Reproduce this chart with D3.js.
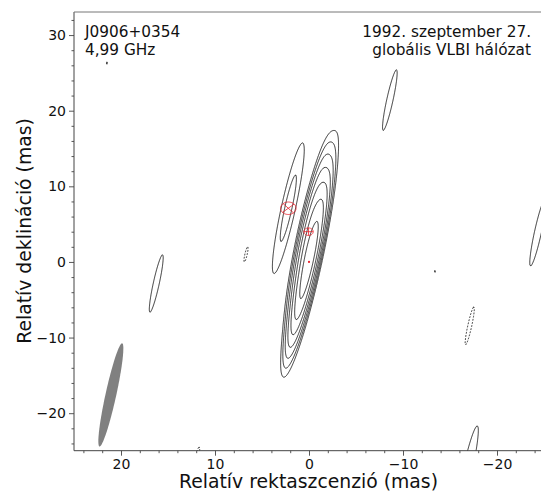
<!DOCTYPE html>
<html>
<head>
<meta charset="utf-8">
<script src="https://cdn.jsdelivr.net/npm/d3@7"></script>
<style>
  body { margin: 0; background: #fff; }
  text { font-family: "DejaVu Sans", sans-serif; fill: #111; }
</style>
</head>
<body>
<svg id="chart" width="541" height="504"></svg>
<script>
// Axis extents (mas) and tick labels
const xDomain = [25.0, -24.68];
const yDomain = [-24.96, 33.05];
const xMajorTicks = [20, 10, 0, -10, -20];
const yMajorTicks = [-20, -10, 0, 10, 20, 30];
const minorStep = 2;

// Texts
const sourceName = "J0906+0354";
const frequency = "4,99 GHz";
const epoch = "1992. szeptember 27.";
const network = "globális VLBI hálózat";
const xLabel = "Relatív rektaszcenzió (mas)";
const yLabel = "Relatív deklináció (mas)";

// Restoring beam (FWHM, mas; position angle in degrees)
const beamX = 21.08, beamY = -17.58, beamMaj = 13.86, beamMin = 1.15, beamPA = -10;

// Brightness components of the restored map (mas, relative peak, FWHM, PA)
const compX    = [0.0,  0.05, -2.1, 2.2,  -8.6,  -24.35, 16.25, -17.1, -13.4, -16.86, 11.8,  6.7,  21.5];
const compY    = [0.0,  4.0,  12.0, 7.1,  21.4,   3.9,   -2.85, -8.45, -1.25, -27.6, -25.2,  1.0,  26.3];
const compPeak = [100,  25,   0.8,  2.55,  1.27,  1.34,   1.24, -1.10, -1.10,  1.68,  -1.20, -1.20, 1.10];
const compMaj  = [12.0, 12.0, 12.0, 15.1, 13.9,  13.9,   13.9,  13.9,   1.5,  13.9,   3.0,   4.0,  1.0];
const compMin  = [1.05, 1.05, 1.05, 1.3,  1.15,  1.15,   1.15,  1.15,   0.3,   1.15,  0.5,   0.5,  0.3];
const compPA   = [-10,  -10,  -10,  -10,  -10,   -10,    -10,   -10,   -10,   -10,   -10,   -10,   -10];

// Contour levels (relative units), negative ones dashed
const posLevels = [1, 2, 4, 8, 16, 32, 64];
const negLevels = [1];

// Model-fit components: position, diameter (mas), marker style
const fitX = [0.0, 0.05, 2.2];
const fitY = [0.0, 4.0, 7.1];
const fitD = [0.0, 1.0, 1.65];
const fitMark = ["dot", "plus", "cross"];

const svg = d3.select("#chart");
const frameLeft = 74, frameRight = 541, frameTop = 12, frameBottom = 450.7;

const x = d3.scaleLinear().domain(xDomain).range([frameLeft, frameRight]);
const y = d3.scaleLinear().domain(yDomain).range([frameBottom, frameTop]);

svg.append("defs").append("clipPath").attr("id", "plotclip")
  .append("rect").attr("x", frameLeft).attr("y", frameTop)
  .attr("width", frameRight - frameLeft).attr("height", frameBottom - frameTop);

const plot = svg.append("g").attr("clip-path", "url(#plotclip)");

// ---- brightness grid ----
const step = 0.1;
const gx0 = -30, gx1 = 28, gy0 = -36, gy1 = 36;
const n = Math.round((gx1 - gx0) / step) + 1;
const m = Math.round((gy1 - gy0) / step) + 1;
const grid = new Float64Array(n * m);
const k4 = 4 * Math.LN2;
compX.forEach((cx, c) => {
  const th = compPA[c] * Math.PI / 180, s = Math.sin(th), co = Math.cos(th);
  const a2 = compMaj[c] * compMaj[c], b2 = compMin[c] * compMin[c];
  const reach = compMaj[c] * 2;
  const i0 = Math.max(0, Math.floor((cx - reach - gx0) / step));
  const i1 = Math.min(n - 1, Math.ceil((cx + reach - gx0) / step));
  const j0 = Math.max(0, Math.floor((compY[c] - reach - gy0) / step));
  const j1 = Math.min(m - 1, Math.ceil((compY[c] + reach - gy0) / step));
  for (let j = j0; j <= j1; j++) {
    const dy = gy0 + j * step - compY[c];
    for (let i = i0; i <= i1; i++) {
      const dx = gx0 + i * step - cx;
      const u = dx * s + dy * co;      // along major axis
      const v = dx * co - dy * s;      // along minor axis
      grid[i + j * n] += compPeak[c] * Math.exp(-k4 * (u * u / a2 + v * v / b2));
    }
  }
});

const gridToScreen = d3.geoTransform({
  point: function(px, py) {
    this.stream.point(x(gx0 + (px - 0.5) * step), y(gy0 + (py - 0.5) * step));
  }
});
const path = d3.geoPath(gridToScreen);

const contours = d3.contours().size([n, m]).smooth(true);
plot.append("g").selectAll("path")
  .data(contours.thresholds(posLevels)(Array.from(grid)))
  .join("path")
  .attr("d", path)
  .attr("fill", "none")
  .attr("stroke", "#000")
  .attr("stroke-width", 0.8);

const negGrid = Array.from(grid, v => -v);
plot.append("g").selectAll("path")
  .data(contours.thresholds(negLevels)(negGrid))
  .join("path")
  .attr("d", path)
  .attr("fill", "none")
  .attr("stroke", "#000")
  .attr("stroke-width", 0.8)
  .attr("stroke-dasharray", "1.8,1.4");

// ---- beam ellipse ----
function ellipsePoints(cx, cy, maj, min, pa, nPts) {
  const th = pa * Math.PI / 180, s = Math.sin(th), co = Math.cos(th);
  return d3.range(nPts).map(k => {
    const t = 2 * Math.PI * k / nPts;
    const u = maj / 2 * Math.cos(t), v = min / 2 * Math.sin(t);
    return [x(cx + u * s + v * co), y(cy + u * co - v * s)];
  });
}
plot.append("path")
  .attr("d", d3.line()(ellipsePoints(beamX, beamY, beamMaj, beamMin, beamPA, 120)) + "Z")
  .attr("fill", "#808080")
  .attr("stroke", "none");

// ---- model-fit markers ----
const red = "#e8202a";
fitX.forEach((fx, k) => {
  const g = plot.append("g").attr("stroke", red).attr("fill", "none").attr("stroke-width", 0.8);
  if (fitMark[k] === "dot") {
    g.append("circle").attr("cx", x(fx)).attr("cy", y(fitY[k])).attr("r", 1.1)
      .attr("fill", red).attr("stroke", "none");
    return;
  }
  const pts = ellipsePoints(fx, fitY[k], fitD[k], fitD[k], 0, 60);
  g.append("path").attr("d", d3.line()(pts) + "Z");
  const idx = fitMark[k] === "plus" ? [0, 30, 15, 45] : [7, 37, 22, 52];
  const p = i => pts[i % 60];
  g.append("line").attr("x1", p(idx[0])[0]).attr("y1", p(idx[0])[1])
    .attr("x2", p(idx[1])[0]).attr("y2", p(idx[1])[1]);
  g.append("line").attr("x1", p(idx[2])[0]).attr("y1", p(idx[2])[1])
    .attr("x2", p(idx[3])[0]).attr("y2", p(idx[3])[1]);
});

// ---- axes ----
const axisColor = "#444";
const fmt = v => (v < 0 ? "\u2212" + Math.abs(v) : String(v));

const xAxis = d3.axisBottom(x).tickValues(xMajorTicks).tickFormat(fmt).tickSize(5).tickPadding(3);
const xMinor = d3.axisBottom(x).tickValues(d3.range(-24, 25, minorStep).filter(v => !xMajorTicks.includes(v))).tickFormat("").tickSize(2.5);
const yAxis = d3.axisLeft(y).tickValues(yMajorTicks).tickFormat(fmt).tickSize(5).tickPadding(3);
const yMinor = d3.axisLeft(y).tickValues(d3.range(-24, 33, minorStep).filter(v => !yMajorTicks.includes(v))).tickFormat("").tickSize(2.5);

function styleAxis(g) {
  g.select(".domain").remove();
  g.selectAll("line").attr("stroke", axisColor).attr("stroke-width", 0.9);
  g.selectAll("text").attr("font-size", 14).attr("fill", "#111")
    .attr("font-family", "DejaVu Sans, sans-serif");
}
svg.append("g").attr("transform", `translate(0,${frameBottom})`).call(xAxis).call(styleAxis);
svg.append("g").attr("transform", `translate(0,${frameBottom})`).call(xMinor).call(styleAxis);
svg.append("g").attr("transform", `translate(${frameLeft},0)`).call(yAxis).call(styleAxis);
svg.append("g").attr("transform", `translate(${frameLeft},0)`).call(yMinor).call(styleAxis);

// frame
svg.append("line").attr("x1", frameLeft).attr("x2", frameLeft).attr("y1", frameTop).attr("y2", frameBottom)
  .attr("stroke", axisColor).attr("stroke-width", 1);
svg.append("line").attr("x1", frameLeft).attr("x2", frameRight).attr("y1", frameBottom).attr("y2", frameBottom)
  .attr("stroke", axisColor).attr("stroke-width", 1);
svg.append("line").attr("x1", frameLeft).attr("x2", frameRight).attr("y1", frameTop).attr("y2", frameTop)
  .attr("stroke", "#777").attr("stroke-width", 1);

// ---- labels ----
const titleSize = 15.3;
svg.append("text").attr("x", 85).attr("y", 37).attr("font-size", titleSize).text(sourceName);
svg.append("text").attr("x", 85).attr("y", 55).attr("font-size", titleSize).text(frequency);
svg.append("text").attr("x", 531).attr("y", 37).attr("font-size", titleSize).attr("text-anchor", "end").text(epoch);
svg.append("text").attr("x", 531).attr("y", 55).attr("font-size", titleSize).attr("text-anchor", "end").text(network);

svg.append("text").attr("x", 308.5).attr("y", 488).attr("font-size", 18.8)
  .attr("text-anchor", "middle").text(xLabel);
svg.append("text").attr("transform", "translate(31,231) rotate(-90)")
  .attr("font-size", 18.8).attr("text-anchor", "middle").text(yLabel);
</script>
</body>
</html>
